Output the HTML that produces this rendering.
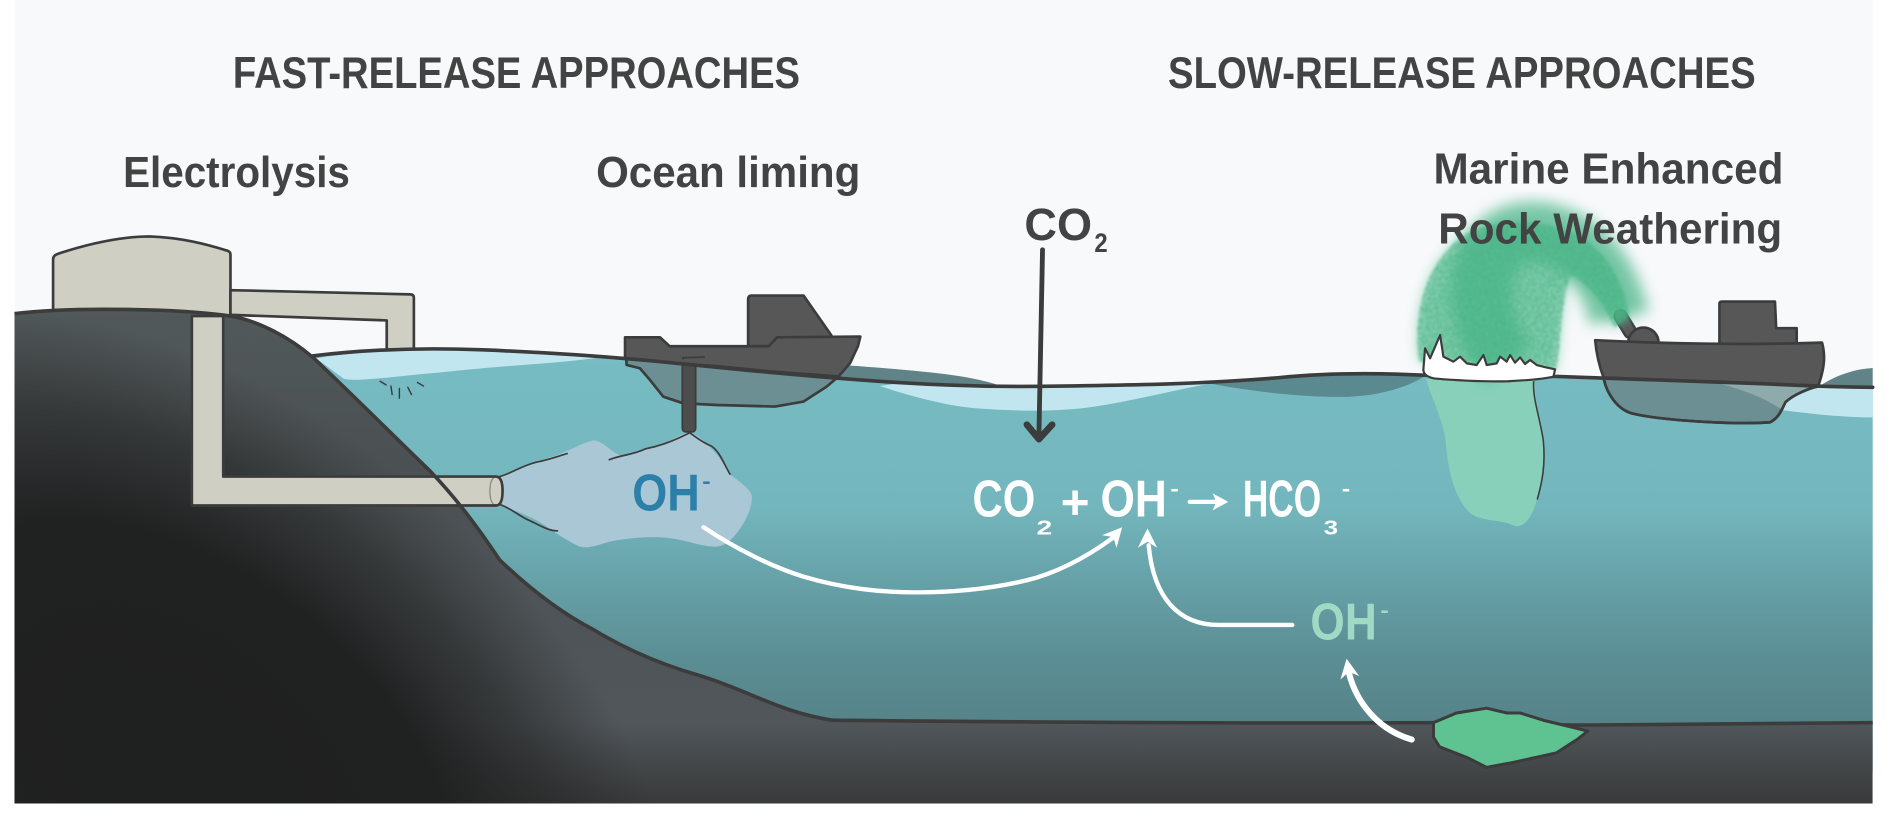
<!DOCTYPE html>
<html>
<head>
<meta charset="utf-8">
<style>
html,body{margin:0;padding:0;background:#ffffff;overflow:hidden;}
svg{display:block;}
text{font-family:"Liberation Sans","DejaVu Sans",sans-serif;font-weight:bold;}
</style>
</head>
<body>
<svg width="1892" height="824" viewBox="0 0 1568 683" preserveAspectRatio="none" xmlns="http://www.w3.org/2000/svg">
<defs>
  <linearGradient id="water" gradientUnits="userSpaceOnUse" x1="0" y1="290" x2="0" y2="600">
    <stop offset="0" stop-color="#77bcc3"/>
    <stop offset="0.42" stop-color="#74b6bd"/>
    <stop offset="0.56" stop-color="#6aa7ae"/>
    <stop offset="0.8" stop-color="#5c9096"/>
    <stop offset="1" stop-color="#558388"/>
  </linearGradient>
  <linearGradient id="ground" gradientUnits="userSpaceOnUse" x1="0" y1="255" x2="0" y2="666">
    <stop offset="0" stop-color="#52595b"/>
    <stop offset="0.3" stop-color="#4b5153"/>
    <stop offset="0.84" stop-color="#50565a"/>
    <stop offset="1" stop-color="#393a3a"/>
  </linearGradient>
  <radialGradient id="dark" gradientUnits="userSpaceOnUse" cx="0" cy="0" r="1" gradientTransform="translate(150,640) rotate(39) scale(520,330)">
    <stop offset="0" stop-color="#1f2020" stop-opacity="1"/>
    <stop offset="0.5" stop-color="#202121" stop-opacity="1"/>
    <stop offset="0.72" stop-color="#252626" stop-opacity="0.6"/>
    <stop offset="0.93" stop-color="#2a2b2b" stop-opacity="0"/>
  </radialGradient>
  <clipPath id="groundClip">
    <path d="M12,260 C60,254 150,256 191,262 C215,266 240,280 259,296 C290,325 330,365 356,390 C380,415 398,440 414,464 C440,489 465,508 492,522 C515,536 545,550 580,560 C620,572 645,590 690,597 C800,598 1000,600 1188,599 C1250,600 1290,601 1316,601 C1400,601 1480,600 1552,599 L1552,666 L12,666 Z"/>
  </clipPath>
  <filter id="blur6" x="-30%" y="-30%" width="160%" height="160%"><feGaussianBlur stdDeviation="6"/></filter>
  <filter id="blur5" x="-30%" y="-30%" width="160%" height="160%"><feGaussianBlur stdDeviation="5"/></filter>
  <filter id="mist" x="-20%" y="-20%" width="140%" height="140%">
    <feTurbulence type="fractalNoise" baseFrequency="0.55" numOctaves="2" seed="4" result="t"/>
    <feColorMatrix in="t" type="matrix" values="0 0 0 0 0  0 0 0 0 0  0 0 0 0 0  0 0 0 1.8 -0.35" result="ta"/>
    <feComposite in="SourceGraphic" in2="ta" operator="in" result="sp"/>
    <feGaussianBlur in="sp" stdDeviation="1"/>
  </filter>
</defs>

<!-- background -->
<rect x="0" y="0" width="1568" height="683" fill="#ffffff"/>
<rect x="12.4" y="0" width="1539.6" height="666" fill="#f8f9fb"/>

<!-- electrolysis tank & top pipe (behind hill) -->
<path d="M44,264 L44,215 C44,212 46,211 49,210 C80,200 105,196 124,196 C150,197 170,202 189,208 C191,209 191,210 191,212 L191,264 Z" fill="#d0cfc3" stroke="#3c3c3c" stroke-width="2.2" stroke-linejoin="round"/>
<path d="M191,240.5 L340,244 C342,244 343,245 343,247 L343,307 C343,311 338,312.5 332,312.5 C325,312.5 320.5,311 320.5,308 L320.5,265.6 L191,261 Z" fill="#d0cfc3" stroke="#3c3c3c" stroke-width="2.2" stroke-linejoin="round"/>

<!-- back waves above surface -->
<path d="M690,302 C720,304 760,307 790,311 C805,313 818,316 830,320 L743,317 C720,315.5 705,314 692,313 Z" fill="#5f8386"/>
<path d="M1508,320 C1520,312 1535,306 1552,305 L1552,321 Z" fill="#5f8386"/>

<!-- water -->
<path d="M259,295 C300,290 350,288 400,290 C450,292 500,295 560,301 C620,307 680,313 743,317 C790,320 830,321 880,320 C950,319 1000,318 1060,313 C1100,309 1140,309 1180,311 L1290,312 C1330,313 1400,316 1460,318 C1500,320 1530,321 1552,321 L1552,640 L259,640 Z" fill="url(#water)"/>

<!-- light bands & shadow wave -->
<path d="M262,297 C300,291 350,288 400,290 C450,292 480,294 500,296 C470,300 440,302 414,304 C390,306 373,308 340,311 C310,314 295,316 285,314 Z" fill="#c1e6ef"/>
<path d="M729,320 C760,330 790,338 818,339 C850,341 880,341 907,337 C940,332 975,323 1003,318 C950,319 900,320 860,320 C820,321 780,320 743,318 Z" fill="#c1e6ef"/>
<path d="M1003,318 C1040,325 1080,329 1110,329 C1140,329 1165,322 1182,311 L1120,309 C1080,310 1040,314 1003,318 Z" fill="#5a8a8f"/>
<path d="M1478,333 L1508,320 L1552,321 L1552,346 C1530,346 1500,343 1478,340 Z" fill="#c1e6ef"/>

<!-- green dissolving column -->
<path d="M1182,314 C1186,330 1195,345 1198,365 C1200,390 1205,412 1218,425 C1228,433 1245,430 1255,436 C1265,438 1272,425 1276,405 C1280,385 1281,365 1276,345 C1273,333 1271,322 1272,314 Z" fill="#89d0bb"/>
<path d="M1271,316 C1270,330 1276,345 1279,365 C1281,385 1278,400 1274,414" fill="none" stroke="#3c3c3c" stroke-width="1.3"/>

<!-- OH- cloud -->
<path d="M414,394 C430,390 445,382 460,378 C475,372 485,366 492,365 C502,366 508,378 518,378 C530,376 540,370 550,368 C558,364 564,360 571,358 C576,360 580,362 586,368 C594,376 600,384 606,394 C614,400 620,404 623,410 C624,420 618,432 612,440 C606,448 600,454 590,453 C578,452 570,448 555,446 C540,444 520,446 505,449 C495,452 487,455 480,453 C470,448 462,443 455,438 C445,430 430,424 414,419 Z" fill="#a9c7d4"/>
<g fill="none" stroke="#3c3c3c" stroke-width="1.4" stroke-linecap="round">
  <path d="M414,395 C425,392 432,386 445,383 C455,381 463,378 470,376"/>
  <path d="M505,381 C515,377 525,377 535,372 C545,370 555,367 571,359"/>
  <path d="M572,359 C580,365 585,368 590,370 C597,375 600,385 605,393"/>
  <path d="M414,418 C425,422 430,428 440,432 C448,436 455,440 462,440"/>
</g>

<!-- ocean liming boat -->
<path d="M519,297 L519.3,302.5 L530.4,305.3 L538.7,315 L549.7,328.8 L566.3,334.3 L594,335.7 L642.3,337 L665.8,332.9 L685.1,320.5 L695,312 L640,308 L560,301 Z" fill="#6b8f92" stroke="#3c3c3c" stroke-width="2.2" stroke-linejoin="round"/>
<rect x="565.5" y="296" width="11" height="62" rx="3" fill="#4d4d4d" stroke="#3c3c3c" stroke-width="1.5"/>
<path d="M620,287 L620,248 Q620,245 623,245 L666,245 L689,278 L689,287 Z" fill="#575757" stroke="#3c3c3c" stroke-width="2.2" stroke-linejoin="round"/>
<path d="M518,279.6 L547,279.6 L555,287 L637,287 L644,279.6 L713,279 L711,287 L704.5,301 L695,312 L640,308 L600,304 L560,301 L518,297.5 Z" fill="#575757" stroke="#3c3c3c" stroke-width="2.2" stroke-linejoin="round"/>
<path d="M566,298 L566,296.5 L584,296" fill="none" stroke="#3c3c3c" stroke-width="1.5"/>

<!-- right boat (MERW) -->
<path d="M1329,313 C1331,325 1340,340 1354,343 C1380,349 1440,352 1467,350 C1475,346 1477,338 1480,333 C1487,327 1498,322 1508,320 Z" fill="#6b8f92" stroke="#3c3c3c" stroke-width="2.2" stroke-linejoin="round"/>
<path d="M1425,318 C1445,323 1462,330 1476,339 C1478,336 1480,333 1482,331 C1490,326 1498,322 1506,320 Z" fill="#8eaaab"/>
<path d="M1329,313 C1331,325 1340,340 1354,343 C1380,349 1440,352 1467,350 C1475,346 1477,338 1480,333 C1487,327 1498,322 1508,320" fill="none" stroke="#3c3c3c" stroke-width="2.2"/>
<path d="M1425,288 L1425,252 Q1425,250 1427,250 L1471,250 L1472,272 L1489,272 L1489,288 Z" fill="#575757" stroke="#3c3c3c" stroke-width="2.2" stroke-linejoin="round"/>
<line x1="1351" y1="275" x2="1343" y2="262" stroke="#3c3c3c" stroke-width="12" stroke-linecap="round"/>
<line x1="1351" y1="275" x2="1343" y2="262" stroke="#575757" stroke-width="8" stroke-linecap="round"/>
<circle cx="1362" cy="284" r="12.5" fill="#575757" stroke="#3c3c3c" stroke-width="2.2"/>
<path d="M1322,282 C1380,285 1450,286 1510,284 C1513,295 1512,305 1507,319.5 C1450,318 1390,315 1329,313 C1326,305 1323,293 1322,282 Z" fill="#575757" stroke="#3c3c3c" stroke-width="2.2" stroke-linejoin="round"/>

<!-- water surface line -->
<path d="M259,295 C300,290 350,288 400,290 C450,292 500,295 560,301 C620,307 680,313 743,317 C790,320 830,321 880,320 C950,319 1000,318 1060,313 C1100,309 1140,309 1180,311 L1290,312 C1330,313 1400,316 1460,318 C1500,320 1530,321 1552,321" fill="none" stroke="#3c3c3c" stroke-width="3" stroke-linecap="round"/>

<!-- ground: hill + seabed -->
<g clip-path="url(#groundClip)">
  <rect x="0" y="240" width="1568" height="450" fill="url(#ground)"/>
  <rect x="0" y="240" width="1568" height="450" fill="url(#dark)"/>
</g>

<!-- L pipe over hill -->
<path d="M159,262 L159,419 L411,419 C415,419 416.5,414 416.5,407 C416.5,400 415,395 411,395 L185,395 L185,262 Z" fill="#d0cfc3" stroke="#3c3c3c" stroke-width="2.2" stroke-linejoin="round"/>
<path d="M411,395 C407,396 406,401 406,407 C406,413 407,418 411,419" fill="none" stroke="#3c3c3c" stroke-width="1" opacity="0.5"/>

<!-- ground outline -->
<path d="M12,260 C60,254 150,256 191,262 C215,266 240,280 259,296 C290,325 330,365 356,390 C380,415 398,440 414,464 C440,489 465,508 492,522 C515,536 545,550 580,560 C620,572 645,590 690,597 C800,598 1000,600 1188,599 C1250,600 1290,601 1316,601 C1400,601 1480,600 1552,599" fill="none" stroke="#3c3c3c" stroke-width="3" stroke-linejoin="round"/>

<!-- nozzle spray ticks -->
<g stroke="#3c3c3c" stroke-width="1.2" stroke-linecap="round">
  <line x1="315" y1="316" x2="320" y2="319"/>
  <line x1="324" y1="320" x2="325" y2="327"/>
  <line x1="331" y1="322" x2="331" y2="330"/>
  <line x1="338" y1="321" x2="341" y2="327"/>
  <line x1="346" y1="317" x2="351" y2="320"/>
</g>

<!-- rock -->
<path d="M1188,599 L1207,591 L1232,587 L1249,591 L1260,591 L1279,597 L1304,603 L1316,606 L1307,613 L1290,624 L1254,632 L1232,636 L1216,628 L1193,619 L1188,611 Z" fill="#5ec291" stroke="#3c3c3c" stroke-width="2.5" stroke-linejoin="round"/>

<!-- plume -->
<path d="M1176,300 C1170,258 1182,218 1212,196 C1242,177 1292,182 1318,202 C1336,217 1347,240 1350,262 L1338,272 C1330,252 1318,236 1302,228 C1294,248 1294,278 1290,306 Z" fill="#6cc6a0" opacity="0.6" filter="url(#blur5)"/>
<path d="M1342,264 C1334,228 1314,200 1280,193 C1248,187 1228,208 1228,242 C1228,266 1236,286 1250,302" fill="none" stroke="#45b384" stroke-width="50" opacity="0.7" filter="url(#blur6)"/>
<path d="M1176,300 C1170,258 1182,218 1212,196 C1242,177 1292,182 1318,202 C1336,217 1347,240 1350,262 L1338,272 C1330,252 1318,236 1302,228 C1294,248 1294,278 1290,306 Z" fill="#45b384" filter="url(#mist)"/>

<!-- foam -->
<path d="M1179.6,306.7 L1181,288.7 L1185.2,297 L1193.5,277.7 L1196.2,295.6 L1204.5,299.8 L1210,295.6 L1215.6,301.2 L1223.8,302.6 L1229.4,294.3 L1232.1,302.6 L1240.4,301.2 L1243.2,295.6 L1248.7,299.8 L1251.5,294.3 L1255.6,300.6 L1259.8,296.2 L1263.9,301.7 L1268.1,298.4 L1273.6,302.6 L1279.1,304 L1288.8,306.1 L1287.4,312.2 C1280,314 1270,315 1250,316 C1230,316.5 1200,315 1188,313.6 C1182,312 1180,310 1179.6,306.7 Z" fill="#ffffff" stroke="#3c3c3c" stroke-width="1.8" stroke-linejoin="round"/>

<!-- CO2 arrow -->
<line x1="864" y1="207" x2="861" y2="361" stroke="#3c3c3c" stroke-width="4" stroke-linecap="round"/>
<polyline points="851,352 861,364 872,352" fill="none" stroke="#3c3c3c" stroke-width="5.5" stroke-linecap="round" stroke-linejoin="round"/>

<!-- white arrows -->
<g fill="none" stroke="#ffffff" stroke-linecap="round">
  <path d="M583,437 C610,455 640,470 666,478 C700,488 730,491 760,491 C800,491 830,486 851,481 C875,475 900,462 922,446" stroke-width="3.6"/>
  <path d="M1071,518 L1010,518 C978,518 956,497 952,452" stroke-width="3.6"/>
  <path d="M1170,613 C1142,605 1124,582 1118,558" stroke-width="5"/>
</g>
<g fill="#ffffff">
  <polygon points="930,437 925.3,454.2 922.7,445.2 913.3,443.6"/>
  <polygon points="951,438 959,454 951,449 943,454"/>
  <polygon points="1116,546 1126.5,560.4 1117.9,556.8 1110.9,563.2"/>
  <line x1="986" y1="416" x2="1008" y2="416" stroke="#ffffff" stroke-width="3.6" stroke-linecap="round"/>
  <polygon points="1018,416 1005,409 1008,416 1005,423"/>
</g>

<!-- headings -->
<g fill="#434343">
  <text x="193" y="73" font-size="37" textLength="470" lengthAdjust="spacingAndGlyphs">FAST-RELEASE APPROACHES</text>
  <text x="968" y="73" font-size="37" textLength="487" lengthAdjust="spacingAndGlyphs">SLOW-RELEASE APPROACHES</text>
  <text x="102" y="155" font-size="36" textLength="188" lengthAdjust="spacingAndGlyphs">Electrolysis</text>
  <text x="494" y="155" font-size="36" textLength="219" lengthAdjust="spacingAndGlyphs">Ocean liming</text>
  <text x="1188" y="152" font-size="36" textLength="290" lengthAdjust="spacingAndGlyphs">Marine Enhanced</text>
  <text x="1192" y="202" font-size="36" textLength="285" lengthAdjust="spacingAndGlyphs">Rock Weathering</text>
  <text x="849" y="199" font-size="38" textLength="56" lengthAdjust="spacingAndGlyphs">CO</text>
  <text x="907" y="209" font-size="22" textLength="11" lengthAdjust="spacingAndGlyphs">2</text>
</g>

<!-- equation -->
<g fill="#ffffff">
  <text x="806" y="428" font-size="43" textLength="52" lengthAdjust="spacingAndGlyphs">CO</text>
  <text x="859" y="443" font-size="17" textLength="13" lengthAdjust="spacingAndGlyphs">2</text>
  <text x="879" y="430" font-size="40" textLength="24" lengthAdjust="spacingAndGlyphs">+</text>
  <text x="912" y="428" font-size="43" textLength="55" lengthAdjust="spacingAndGlyphs">OH</text>
  <text x="970" y="411" font-size="18" textLength="7" lengthAdjust="spacingAndGlyphs">-</text>
  <text x="1030" y="428" font-size="43" textLength="65" lengthAdjust="spacingAndGlyphs">HCO</text>
  <text x="1097" y="443" font-size="17" textLength="12" lengthAdjust="spacingAndGlyphs">3</text>
  <text x="1112" y="411" font-size="18" textLength="7" lengthAdjust="spacingAndGlyphs">-</text>
</g>

<!-- OH- labels -->
<text x="524" y="423" font-size="43" fill="#2b7fa9" textLength="56" lengthAdjust="spacingAndGlyphs">OH</text>
<text x="582" y="405" font-size="18" fill="#2b7fa9" textLength="7" lengthAdjust="spacingAndGlyphs">-</text>
<text x="1086" y="530" font-size="43" fill="#a1dac4" textLength="55" lengthAdjust="spacingAndGlyphs">OH</text>
<text x="1144" y="512" font-size="18" fill="#a1dac4" textLength="7" lengthAdjust="spacingAndGlyphs">-</text>
</svg>
</body>
</html>
